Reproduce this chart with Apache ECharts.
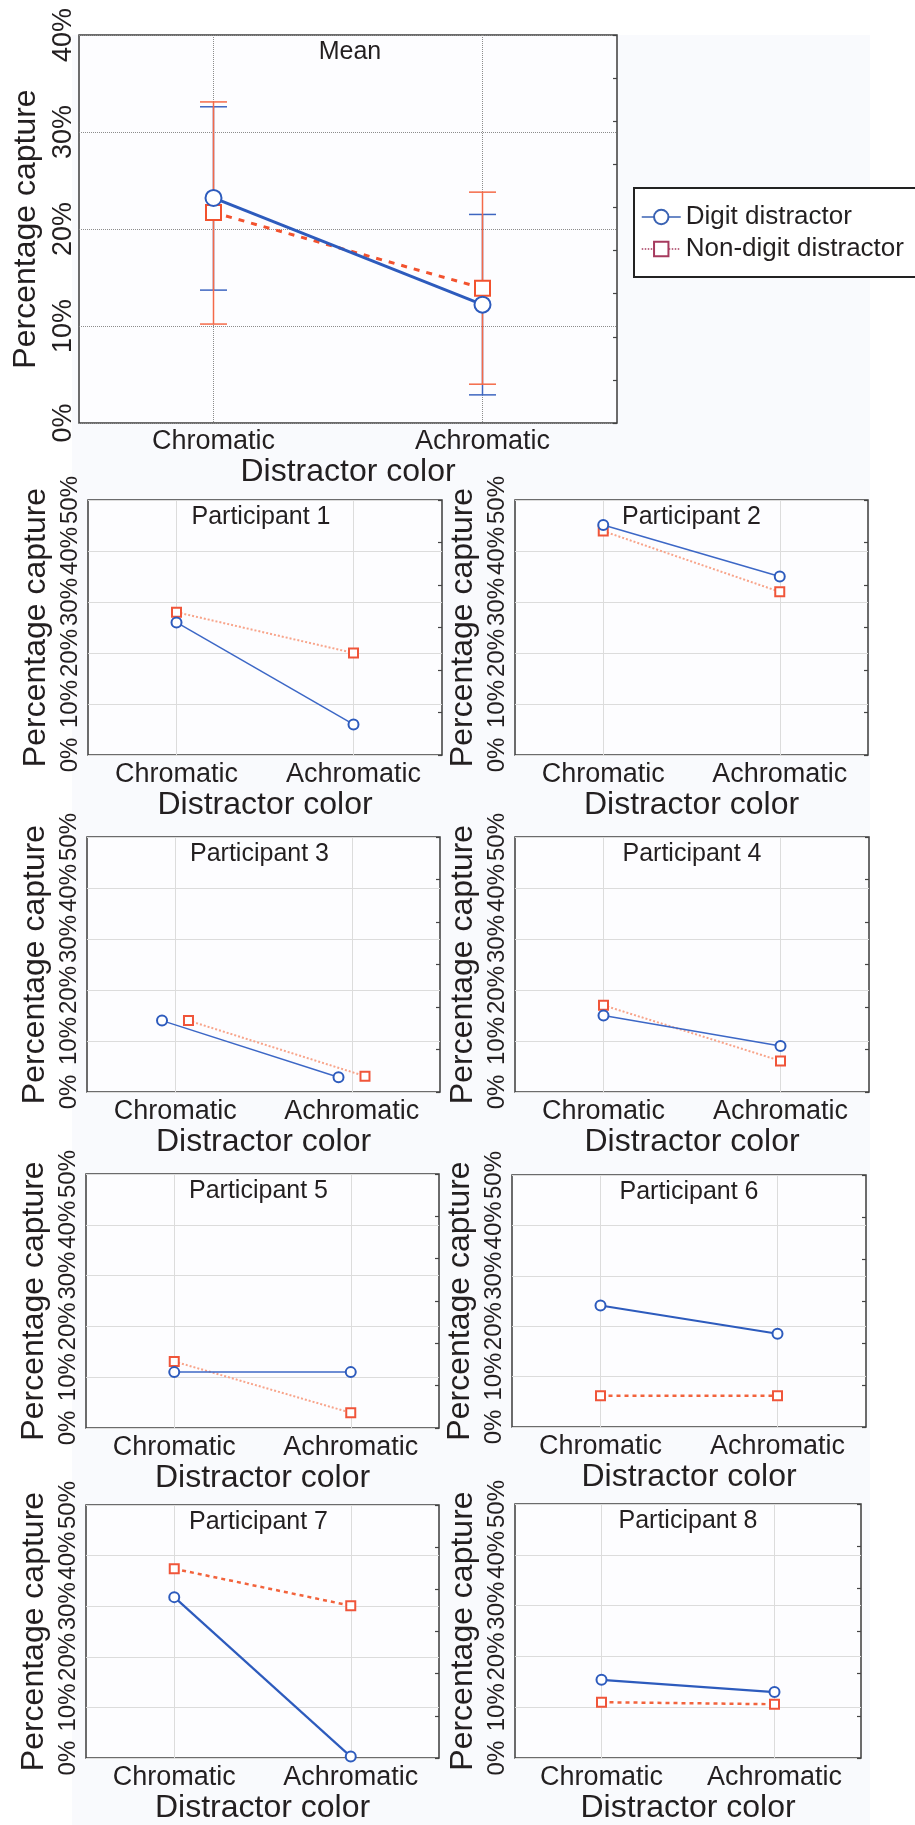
<!DOCTYPE html>
<html>
<head>
<meta charset="utf-8">
<script src="https://cdn.jsdelivr.net/npm/echarts@6/dist/echarts.min.js"></script>
<style>
  html, body { margin: 0; padding: 0; background: #fff; }
  #chart { width: 915px; height: 1825px; }
</style>
</head>
<body>
<div id="chart"></div>
<script>
// categories on the x axis
var categories = ['Chromatic', 'Achromatic'];
var seriesNames = ['Digit distractor', 'Non-digit distractor'];

// mean panel (percent)
var meanDigit = [23.2, 12.2];
var meanNonDigit = [21.7, 13.9];
var meanDigitLow = [13.7, 2.9];
var meanDigitHigh = [32.6, 21.5];
var meanNonDigitLow = [10.2, 4.0];
var meanNonDigitHigh = [33.1, 23.8];

// per participant, [chromatic, achromatic] (percent)
var participantDigit = [
    [26.0, 6.0], [45.1, 35.0], [14.0, 2.9], [15.0, 9.0],
    [11.0, 11.0], [24.1, 18.5], [31.8, 0.3], [15.4, 13.0]
];
var participantNonDigit = [
    [28.0, 20.0], [43.9, 32.0], [14.0, 3.1], [17.0, 6.1],
    [13.1, 3.0], [6.2, 6.2], [37.4, 30.1], [11.0, 10.6]
];
// small sideways shift of the markers (participant 3 only)
var participantJitter = [0, 0, 0.075, 0, 0, 0, 0, 0];

var FONT = '"Liberation Sans", Arial, Helvetica, sans-serif';
var TXT = '#231f20';
var BLUE = '#2d5bbd';
var ORANGE = '#f2522e';

// grid boxes [left, top, width, height]
var meanBox = [79, 35, 538, 388];
var panelBoxes = [
    [88, 500, 354, 255], [515, 500, 353, 255],
    [87, 837, 353, 255], [515, 837, 354, 255],
    [86, 1174, 353, 254], [512, 1175, 354, 252],
    [86, 1505, 353, 261], [515, 1504, 346, 263]
];

var grids = [], xAxes = [], yAxes = [], series = [], titles = [];

function addPanel(box, yMax, opts) {
    var g = grids.length;
    grids.push({
        left: box[0], top: box[1], width: box[2], height: box[3],
        show: true, backgroundColor: '#fdfdff',
        borderColor: '#3c3c3c', borderWidth: 1.5
    });
    xAxes.push({
        type: 'category', gridIndex: g, data: categories, boundaryGap: true,
        axisLine: {show: false}, axisTick: {show: false},
        axisLabel: {interval: 0, fontSize: opts.catSize, color: TXT, fontFamily: FONT, margin: opts.catMargin},
        splitLine: {show: true, alignWithLabel: true, lineStyle: {color: opts.gridColor, type: opts.gridType, width: 1}},
        name: 'Distractor color', nameLocation: 'middle', nameGap: opts.xNameGap,
        nameTextStyle: {fontSize: 32, color: TXT, fontFamily: FONT}
    });
    xAxes.push({type: 'value', gridIndex: g, min: -0.5, max: 1.5, show: false});
    yAxes.push({
        type: 'value', gridIndex: g, min: 0, max: yMax, interval: 10,
        axisLine: {show: false}, axisTick: {show: false},
        axisLabel: {rotate: 90, formatter: '{value}%', fontSize: opts.tickSize, color: TXT, fontFamily: FONT, margin: opts.tickMargin},
        splitLine: {show: true, lineStyle: {color: opts.gridColor, type: opts.gridType, width: 1}},
        name: 'Percentage capture', nameLocation: 'middle', nameGap: opts.yNameGap,
        nameTextStyle: {fontSize: 32, color: TXT, fontFamily: FONT}
    });
    yAxes.push({
        type: 'value', gridIndex: g, position: 'right', min: 0, max: opts.rightTicks, interval: 1,
        axisLine: {show: false}, axisLabel: {show: false}, splitLine: {show: false},
        axisTick: {show: true, inside: true, length: 4, lineStyle: {color: '#444', width: 1.2}}
    });
    titles.push({
        text: opts.title, left: box[0] + box[2] / 2 + (opts.titleShift || 0), top: box[1] + 5,
        textAlign: 'center', padding: 0,
        textStyle: {fontSize: 25, fontWeight: 'normal', color: TXT, fontFamily: FONT}
    });
    return g;
}

function points(vals, shift) {
    return vals.map(function (v, i) { return [i + shift, v]; });
}

function errorBar(color, halfCap) {
    return function (params, api) {
        var x = api.value(0);
        var lo = api.coord([x, api.value(1)]);
        var hi = api.coord([x, api.value(2)]);
        var st = {stroke: color, lineWidth: 1.5};
        return {type: 'group', children: [
            {type: 'line', shape: {x1: lo[0], y1: lo[1], x2: hi[0], y2: hi[1]}, style: st},
            {type: 'line', shape: {x1: lo[0] - halfCap, y1: lo[1], x2: lo[0] + halfCap, y2: lo[1]}, style: st},
            {type: 'line', shape: {x1: hi[0] - halfCap, y1: hi[1], x2: hi[0] + halfCap, y2: hi[1]}, style: st}
        ]};
    };
}

// ---- mean panel
var gm = addPanel(meanBox, 40, {
    title: 'Mean', catSize: 27, catMargin: 5, xNameGap: 27, tickSize: 27, tickMargin: 2,
    yNameGap: 36, gridColor: '#8c8c8c', gridType: 'dotted', rightTicks: 9, titleShift: 2
});
series.push({
    type: 'custom', name: 'digitErr', xAxisIndex: 2 * gm + 1, yAxisIndex: 2 * gm, z: 1,
    renderItem: errorBar('#3e66c0', 13.5), encode: {x: 0, y: [1, 2]},
    data: categories.map(function (c, i) { return [i, meanDigitLow[i], meanDigitHigh[i]]; })
});
series.push({
    type: 'custom', name: 'nonDigitErr', xAxisIndex: 2 * gm + 1, yAxisIndex: 2 * gm, z: 1,
    renderItem: errorBar('#f46a48', 13.5), encode: {x: 0, y: [1, 2]},
    data: categories.map(function (c, i) { return [i, meanNonDigitLow[i], meanNonDigitHigh[i]]; })
});
series.push({
    type: 'line', name: seriesNames[1], xAxisIndex: 2 * gm + 1, yAxisIndex: 2 * gm, z: 3,
    data: points(meanNonDigit, 0), symbol: 'emptyRect', symbolSize: 15,
    lineStyle: {color: ORANGE, width: 3, type: [6, 7]},
    itemStyle: {color: ORANGE, borderWidth: 2.5}
});
series.push({
    type: 'line', name: seriesNames[0], xAxisIndex: 2 * gm + 1, yAxisIndex: 2 * gm, z: 4,
    data: points(meanDigit, 0), symbol: 'emptyCircle', symbolSize: 16,
    lineStyle: {color: BLUE, width: 3},
    itemStyle: {color: BLUE, borderWidth: 2.5}
});

// ---- participant panels
participantDigit.forEach(function (d, p) {
    var bold = p >= 5;
    var g = addPanel(panelBoxes[p], 50, {
        title: 'Participant ' + (p + 1), catSize: 27, catMargin: 6, xNameGap: 29, tickSize: 24,
        tickMargin: 6, yNameGap: 36, gridColor: '#dcdcdc', gridType: 'solid', rightTicks: 6,
        titleShift: p % 2 === 0 ? -4 : 0
    });
    var j = participantJitter[p];
    series.push({
        type: 'line', name: seriesNames[1], xAxisIndex: 2 * g + 1, yAxisIndex: 2 * g, z: 3,
        data: points(participantNonDigit[p], j), symbol: 'emptyRect', symbolSize: 9,
        lineStyle: bold ? {color: '#f2633c', width: 2.5, type: [4, 4]} : {color: '#f8a48a', width: 2, type: [2, 2]},
        itemStyle: {color: '#f0553a', borderWidth: 1.6}
    });
    series.push({
        type: 'line', name: seriesNames[0], xAxisIndex: 2 * g + 1, yAxisIndex: 2 * g, z: 4,
        data: points(d, -j), symbol: 'emptyCircle', symbolSize: 10,
        lineStyle: {color: bold ? '#2d5bbd' : '#3c67c6', width: bold ? 2.2 : 1.5},
        itemStyle: {color: '#2d5bbd', borderWidth: 1.6}
    });
});

var chart = echarts.init(document.getElementById('chart'));
chart.setOption({
    animation: false,
    backgroundColor: '#ffffff',
    textStyle: {fontFamily: FONT},
    graphic: [{
        type: 'rect', z: -100, silent: true,
        shape: {x: 72, y: 35, width: 798, height: 1790},
        style: {fill: '#f9fafd'}
    }],
    title: titles,
    legend: {
        orient: 'vertical', left: 634, top: 188,
        padding: [16, 24, 15, 7], itemGap: 6, itemWidth: 39, itemHeight: 18,
        borderColor: '#222', borderWidth: 2, backgroundColor: '#ffffff',
        selectedMode: false,
        textStyle: {fontSize: 26, color: TXT, fontFamily: FONT},
        data: [
            {name: seriesNames[0], itemStyle: {color: '#3a62b3'}, lineStyle: {color: '#3a62b3', width: 1.5, type: 'solid'}},
            {name: seriesNames[1], itemStyle: {color: '#a63a5e'}, lineStyle: {color: '#a63a5e', width: 1.5, type: 'dotted'}}
        ]
    },
    grid: grids,
    xAxis: xAxes,
    yAxis: yAxes,
    series: series
});
</script>
</body>
</html>
